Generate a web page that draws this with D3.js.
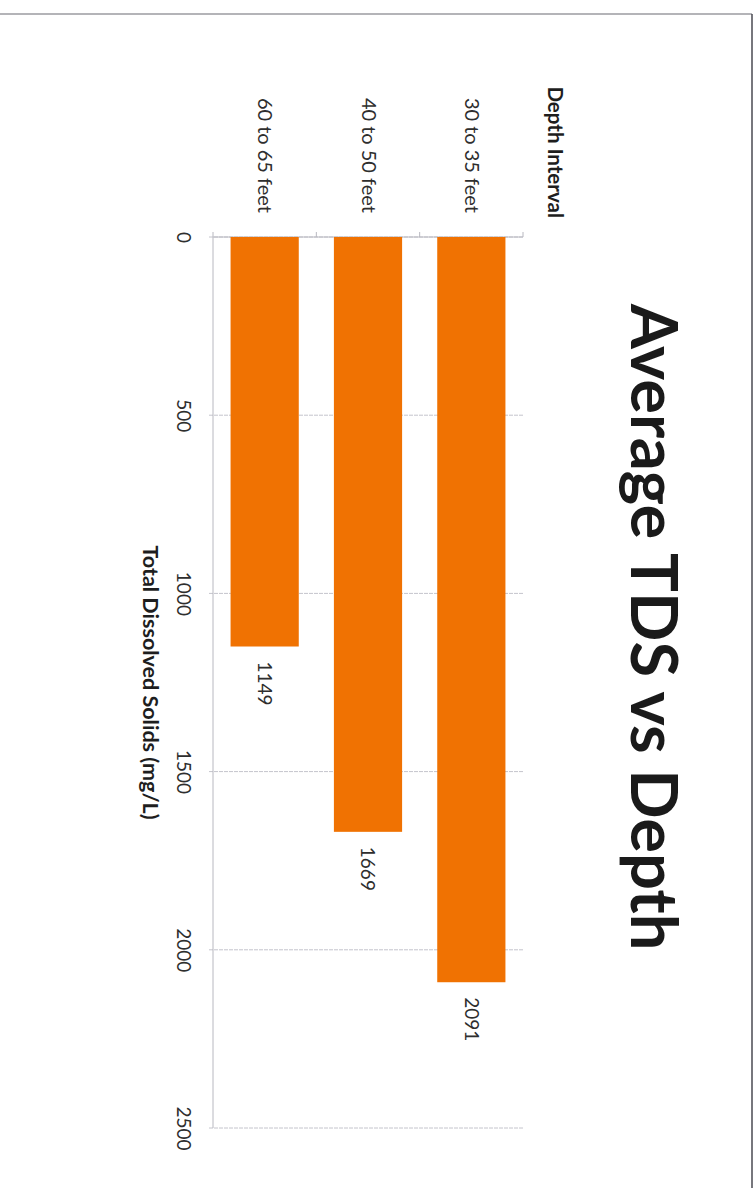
<!DOCTYPE html>
<html>
<head>
<meta charset="utf-8">
<script src="https://cdn.jsdelivr.net/npm/d3@7"></script>
<style>
  body { margin: 0; background: #fff; }
  svg { display: block; font-family: Lato, "Open Sans", sans-serif; }
</style>
</head>
<body>
<div id="chart"></div>
<script>
// data
const categories = ['30 to 35 feet', '40 to 50 feet', '60 to 65 feet'];
const tdsValues = [2091, 1669, 1149];
const valueTicks = [0, 500, 1000, 1500, 2000, 2500];

const W = 756, H = 1188;

const svg = d3.select('#chart')
    .append('svg')
    .attr('width', W)
    .attr('height', H);

// page frame (top and right edges of the scanned page)
svg.append('line')
    .attr('x1', 0).attr('x2', 752).attr('y1', 14).attr('y2', 14)
    .attr('stroke', '#6a6a72').attr('stroke-width', 1.2);
svg.append('line')
    .attr('x1', 752).attr('x2', 752).attr('y1', 14).attr('y2', H)
    .attr('stroke', '#4a4a52').attr('stroke-width', 1.5);

// the whole chart is a horizontal bar chart turned 90deg clockwise
const g = svg.append('g')
    .attr('transform', `translate(${W},0) rotate(90)`);

const x = d3.scaleLinear()
    .domain([0, 2500])
    .range([237, 1128]);

const y = d3.scaleBand()
    .domain(categories)
    .range([233, 543])
    .paddingInner(0.34)
    .paddingOuter(0.17);

const axisY = 543;   // local y of value axis line
const baseX = x(0);

// gridlines
g.append('g')
    .selectAll('line')
    .data(valueTicks)
    .join('line')
    .attr('x1', d => x(d))
    .attr('x2', d => x(d))
    .attr('y1', y.range()[0])
    .attr('y2', axisY + 5)
    .attr('stroke', '#c4c4cc')
    .attr('stroke-width', 1)
    .attr('stroke-dasharray', '4,1');

// value axis line
g.append('line')
    .attr('x1', baseX).attr('x2', x(2500))
    .attr('y1', axisY).attr('y2', axisY)
    .attr('stroke', '#b8b8c0').attr('stroke-width', 1);

// category axis line + ticks at band boundaries
g.append('line')
    .attr('x1', baseX).attr('x2', baseX)
    .attr('y1', y.range()[0]).attr('y2', axisY)
    .attr('stroke', '#b8b8c0').attr('stroke-width', 1);

const bounds = categories.map(c => y(c) - y.step() * y.paddingInner() / 2)
    .concat([y.range()[1]]);
g.append('g')
    .selectAll('line')
    .data(bounds)
    .join('line')
    .attr('x1', baseX - 5).attr('x2', baseX)
    .attr('y1', d => d).attr('y2', d => d)
    .attr('stroke', '#b8b8c0').attr('stroke-width', 1);

// bars
g.append('g')
    .selectAll('rect')
    .data(categories)
    .join('rect')
    .attr('x', baseX)
    .attr('y', d => y(d))
    .attr('width', (d, i) => x(tdsValues[i]) - baseX)
    .attr('height', y.bandwidth())
    .attr('fill', '#f07202');

// value labels
g.append('g')
    .selectAll('text')
    .data(categories)
    .join('text')
    .attr('x', (d, i) => x(tdsValues[i]) + 15)
    .attr('y', d => y(d) + y.bandwidth() / 2)
    .attr('dy', '0.35em')
    .attr('font-size', 19)
    .attr('fill', '#2e2e2e')
    .text((d, i) => tdsValues[i]);

// value axis tick labels
const xAxis = d3.axisBottom(x)
    .tickValues(valueTicks)
    .tickFormat(d3.format('d'))
    .tickSize(0)
    .tickPadding(23);
g.append('g')
    .attr('transform', `translate(0,${axisY})`)
    .call(xAxis)
    .call(s => s.select('.domain').remove())
    .selectAll('text')
    .attr('font-family', 'Lato, "Open Sans", sans-serif')
    .attr('font-size', 19)
    .attr('fill', '#2e2e2e');

// category labels
const yAxis = d3.axisLeft(y)
    .tickSize(0)
    .tickPadding(24);
g.append('g')
    .attr('transform', `translate(${baseX},0)`)
    .call(yAxis)
    .call(s => s.select('.domain').remove())
    .selectAll('text')
    .attr('font-family', 'Lato, "Open Sans", sans-serif')
    .attr('font-size', 20)
    .attr('fill', '#2e2e2e');

// axis titles
g.append('text')
    .attr('x', 218)
    .attr('y', 208)
    .attr('text-anchor', 'end')
    .attr('font-size', 20.5)
    .attr('font-weight', 700)
    .attr('fill', '#1e1e1e')
    .text('Depth Interval');

g.append('text')
    .attr('x', (x(0) + x(2500)) / 2)
    .attr('y', 613)
    .attr('text-anchor', 'middle')
    .attr('font-size', 21.5)
    .attr('font-weight', 700)
    .attr('fill', '#1e1e1e')
    .text('Total Dissolved Solids (mg/L)');

// chart title
g.append('text')
    .attr('x', 627)
    .attr('y', 125)
    .attr('text-anchor', 'middle')
    .attr('font-size', 65)
    .attr('font-weight', 700)
    .attr('fill', '#1a1a1a')
    .text('Average TDS vs Depth');
</script>
</body>
</html>
